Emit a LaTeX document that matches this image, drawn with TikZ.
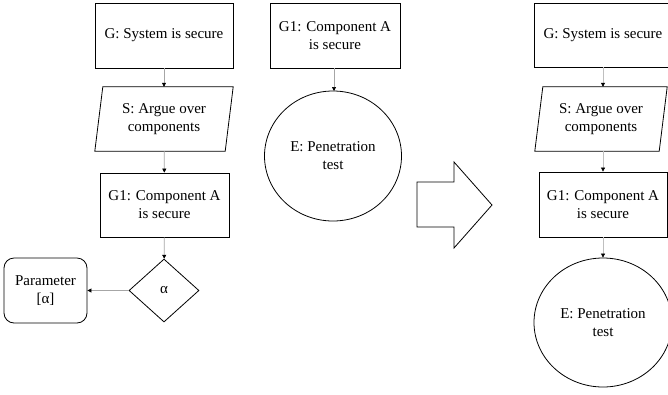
\documentclass[tikz,border=0pt]{standalone}
\usepackage{fontspec}
\setmainfont{Liberation Serif}
\usetikzlibrary{shapes.geometric,arrows.meta}
\begin{document}
\begin{tikzpicture}[x=1pt,y=-1pt,
  box/.style={draw,line width=0.8pt,align=center,inner sep=2pt,font=\fontsize{15}{18}\selectfont},
  ghost/.style={align=center,inner sep=0pt,font=\fontsize{15}{18}\selectfont},
  conn/.style={draw=gray!70,line width=0.7pt,-{Triangle[length=4pt,width=4pt,color=black]}},
  shp/.style={draw,line width=0.8pt}]
\useasboundingbox (0,0) rectangle (668,394);
\fill[white] (0,0) rectangle (668,394);
% left column
\node[box,minimum width=138,minimum height=65] (G) at (164,35.5) {G: System is secure};
\node[ghost,minimum width=138,minimum height=64] (S) at (164,119) {S: Argue over\\components};
\draw[shp] ([xshift=8]S.north west) -- (S.north east) -- ([xshift=-8]S.south east) -- (S.south west) -- cycle;
\node[box,minimum width=129,minimum height=64] (G1) at (164.5,205) {G1: Component A\\is secure};
\node[box,diamond,minimum width=70,minimum height=63,inner sep=0pt] (D) at (164,290.5) {α};
\node[box,rounded corners=10,minimum width=83,minimum height=65] (P) at (45.5,290.5) {Parameter\\{[α]}};
\draw[conn] (G) -- (S);
\draw[conn] (S) -- (G1);
\draw[conn] (G1) -- (D);
\draw[conn] (D) -- (P);
% middle
\node[box,minimum width=130,minimum height=65] (MG1) at (335,35.5) {G1: Component A\\is secure};
\node[box,ellipse,minimum width=137,minimum height=130,inner sep=0pt] (ME) at (333,156) {E: Penetration\\test};
\draw[conn] (MG1.south -| 334,0) -- (334,91);
% big arrow
\draw[shp] (417,182) -- (454,182) -- (454,162) -- (492,205) -- (454,248) -- (454,227) -- (417,227) -- cycle;
% right column
\node[box,minimum width=138,minimum height=64] (RG) at (603,35) {G: System is secure};
\node[ghost,minimum width=132,minimum height=64] (RS) at (601,119) {S: Argue over\\components};
\draw[shp] ([xshift=8]RS.north west) -- (RS.north east) -- ([xshift=-8]RS.south east) -- (RS.south west) -- cycle;
\node[box,minimum width=128,minimum height=65] (RG1) at (603,204.5) {G1: Component A\\is secure};
\node[box,ellipse,minimum width=138,minimum height=129,inner sep=0pt] (RE) at (603,322.5) {E: Penetration\\test};
\draw[conn,draw=gray!50] (RG.south) -- (RG.south |- RS.north);
\draw[conn,draw=gray!50] (RG.south |- RS.south) -- (RG.south |- RG1.north);
\draw[conn,draw=gray!50] (RG1) -- (RE);
\end{tikzpicture}
\end{document}
